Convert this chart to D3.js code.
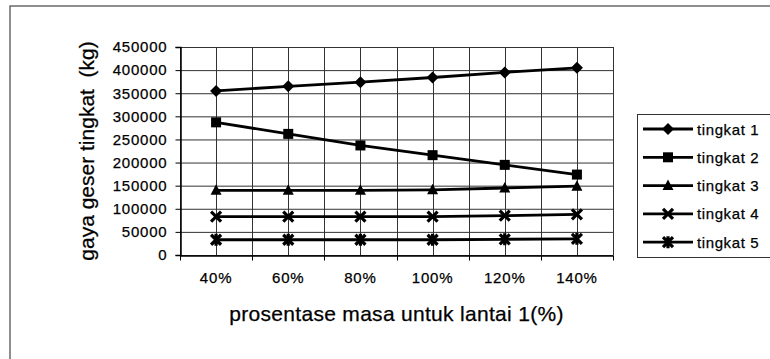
<!DOCTYPE html>
<html>
<head>
<meta charset="utf-8">
<script src="https://cdn.jsdelivr.net/npm/d3@7/dist/d3.min.js"></script>
<style>
  body { margin: 0; background: #fff; }
  text { font-family: "Liberation Sans", Arial, sans-serif; fill: #000; stroke: #000; stroke-width: 0.25px; }
</style>
</head>
<body>
<script>
const categories = ["40%", "60%", "80%", "100%", "120%", "140%"];
const seriesNames = ["tingkat 1", "tingkat 2", "tingkat 3", "tingkat 4", "tingkat 5"];
const tingkat1 = [355000, 365000, 374000, 384000, 395000, 405000];
const tingkat2 = [287000, 262000, 237000, 216000, 195000, 174000];
const tingkat3 = [140000, 140000, 140000, 141000, 145000, 149000];
const tingkat4 = [83000, 83000, 83000, 83000, 85000, 88000];
const tingkat5 = [33000, 33000, 33000, 33000, 34000, 35000];
const yTicks = [0, 50000, 100000, 150000, 200000, 250000, 300000, 350000, 400000, 450000];

const width = 770;
const height = 359;
const plot = { left: 180, top: 47, right: 613, bottom: 255 };

const series = [tingkat1, tingkat2, tingkat3, tingkat4, tingkat5];
const markers = ["diamond", "square", "triangle", "x", "star"];

const svg = d3.select("body").append("svg")
  .attr("width", width)
  .attr("height", height);

// outer chart frame (only top/left visible)
svg.append("rect")
  .attr("x", 10).attr("y", 6)
  .attr("width", 800).attr("height", 400)
  .attr("fill", "none")
  .attr("stroke", "#444")
  .attr("stroke-width", 1.2);

const x = d3.scaleBand().domain(categories).range([plot.left, plot.right]);
const y = d3.scaleLinear().domain([0, 450000]).range([plot.bottom, plot.top]);

// gridlines: horizontal
svg.append("g")
  .selectAll("line")
  .data(yTicks)
  .join("line")
  .attr("x1", plot.left).attr("x2", plot.right)
  .attr("y1", d => y(d) + 0.5).attr("y2", d => y(d) + 0.5)
  .attr("stroke", "#333").attr("stroke-width", 1);

// gridlines: vertical at category centres and boundaries
const vx = [];
categories.forEach(c => {
  vx.push(x(c));
  vx.push(x(c) + x.bandwidth() / 2);
});
vx.push(plot.right);
svg.append("g")
  .selectAll("line")
  .data(vx)
  .join("line")
  .attr("x1", d => Math.round(d) + 0.5).attr("x2", d => Math.round(d) + 0.5)
  .attr("y1", plot.top).attr("y2", plot.bottom)
  .attr("stroke", "#333").attr("stroke-width", 1);

// axes
const yAxis = svg.append("g")
  .attr("transform", `translate(${plot.left + 0.5},0)`)
  .call(d3.axisLeft(y).tickValues(yTicks).tickSize(5).tickPadding(8).tickFormat(d3.format("d")));
yAxis.select(".domain").attr("stroke", "#000").attr("stroke-width", 1.5);
yAxis.selectAll("text")
  .attr("font-size", 15)
  .attr("letter-spacing", 0.8)
  .attr("font-family", "Liberation Sans, Arial, sans-serif");

const xAxis = svg.append("g")
  .attr("transform", `translate(0,${plot.bottom + 0.5})`)
  .call(d3.axisBottom(x).tickSize(0).tickPadding(17));
xAxis.select(".domain").attr("stroke", "#000").attr("stroke-width", 1.5);
xAxis.selectAll("text")
  .attr("font-size", 15)
  .attr("letter-spacing", 0.8)
  .attr("font-family", "Liberation Sans, Arial, sans-serif");
// tick marks at category boundaries
xAxis.append("g")
  .selectAll("line")
  .data(categories.map(c => x(c)).concat([plot.right]))
  .join("line")
  .attr("x1", d => Math.round(d) + 0.5).attr("x2", d => Math.round(d) + 0.5)
  .attr("y1", 0).attr("y2", 5)
  .attr("stroke", "#000");

// axis titles
svg.append("text")
  .attr("transform", `translate(94,${(plot.top + plot.bottom) / 2}) rotate(-90)`)
  .attr("text-anchor", "middle")
  .attr("font-size", 21)
  .style("white-space", "pre")
  .text("gaya geser tingkat  (kg)");

svg.append("text")
  .attr("x", (plot.left + plot.right) / 2)
  .attr("y", 321)
  .attr("text-anchor", "middle")
  .attr("font-size", 21)
  .attr("letter-spacing", 0.3)
  .text("prosentase masa untuk lantai 1(%)");

// marker shapes
function drawMarker(g, type, cx, cy) {
  if (type === "diamond") {
    g.append("path").attr("d", `M${cx},${cy - 6}L${cx + 6},${cy}L${cx},${cy + 6}L${cx - 6},${cy}Z`).attr("fill", "#000");
  } else if (type === "square") {
    g.append("rect").attr("x", cx - 5).attr("y", cy - 5).attr("width", 10).attr("height", 10).attr("fill", "#000");
  } else if (type === "triangle") {
    g.append("path").attr("d", `M${cx},${cy - 6}L${cx + 5.5},${cy + 4.5}L${cx - 5.5},${cy + 4.5}Z`).attr("fill", "#000");
  } else if (type === "x") {
    g.append("path").attr("d", `M${cx - 5},${cy - 5}L${cx + 5},${cy + 5}M${cx + 5},${cy - 5}L${cx - 5},${cy + 5}`)
      .attr("stroke", "#000").attr("stroke-width", 3.2);
  } else if (type === "star") {
    g.append("path").attr("d", `M${cx - 5},${cy - 5}L${cx + 5},${cy + 5}M${cx + 5},${cy - 5}L${cx - 5},${cy + 5}M${cx},${cy - 6}L${cx},${cy + 6}`)
      .attr("stroke", "#000").attr("stroke-width", 3.2);
  }
}

const line = d3.line()
  .x((d, i) => x(categories[i]) + x.bandwidth() / 2)
  .y(d => y(d));

series.forEach((vals, si) => {
  const g = svg.append("g");
  g.append("path")
    .datum(vals)
    .attr("d", line)
    .attr("fill", "none")
    .attr("stroke", "#000")
    .attr("stroke-width", 2.8);
  vals.forEach((v, i) => {
    drawMarker(g, markers[si], x(categories[i]) + x.bandwidth() / 2, y(v));
  });
});

// legend
const legend = svg.append("g");
legend.append("rect")
  .attr("x", 637.5).attr("y", 114.5)
  .attr("width", 200).attr("height", 143)
  .attr("fill", "#fff")
  .attr("stroke", "#333").attr("stroke-width", 1);

seriesNames.forEach((name, i) => {
  const ly = 129 + i * 28.3;
  legend.append("line")
    .attr("x1", 643).attr("x2", 693)
    .attr("y1", ly).attr("y2", ly)
    .attr("stroke", "#000").attr("stroke-width", 2.8);
  drawMarker(legend, markers[i], 668, ly);
  legend.append("text")
    .attr("x", 697).attr("y", ly + 5.5)
    .attr("font-size", 15)
    .attr("letter-spacing", 0.6)
    .text(name);
});
</script>
</body>
</html>
